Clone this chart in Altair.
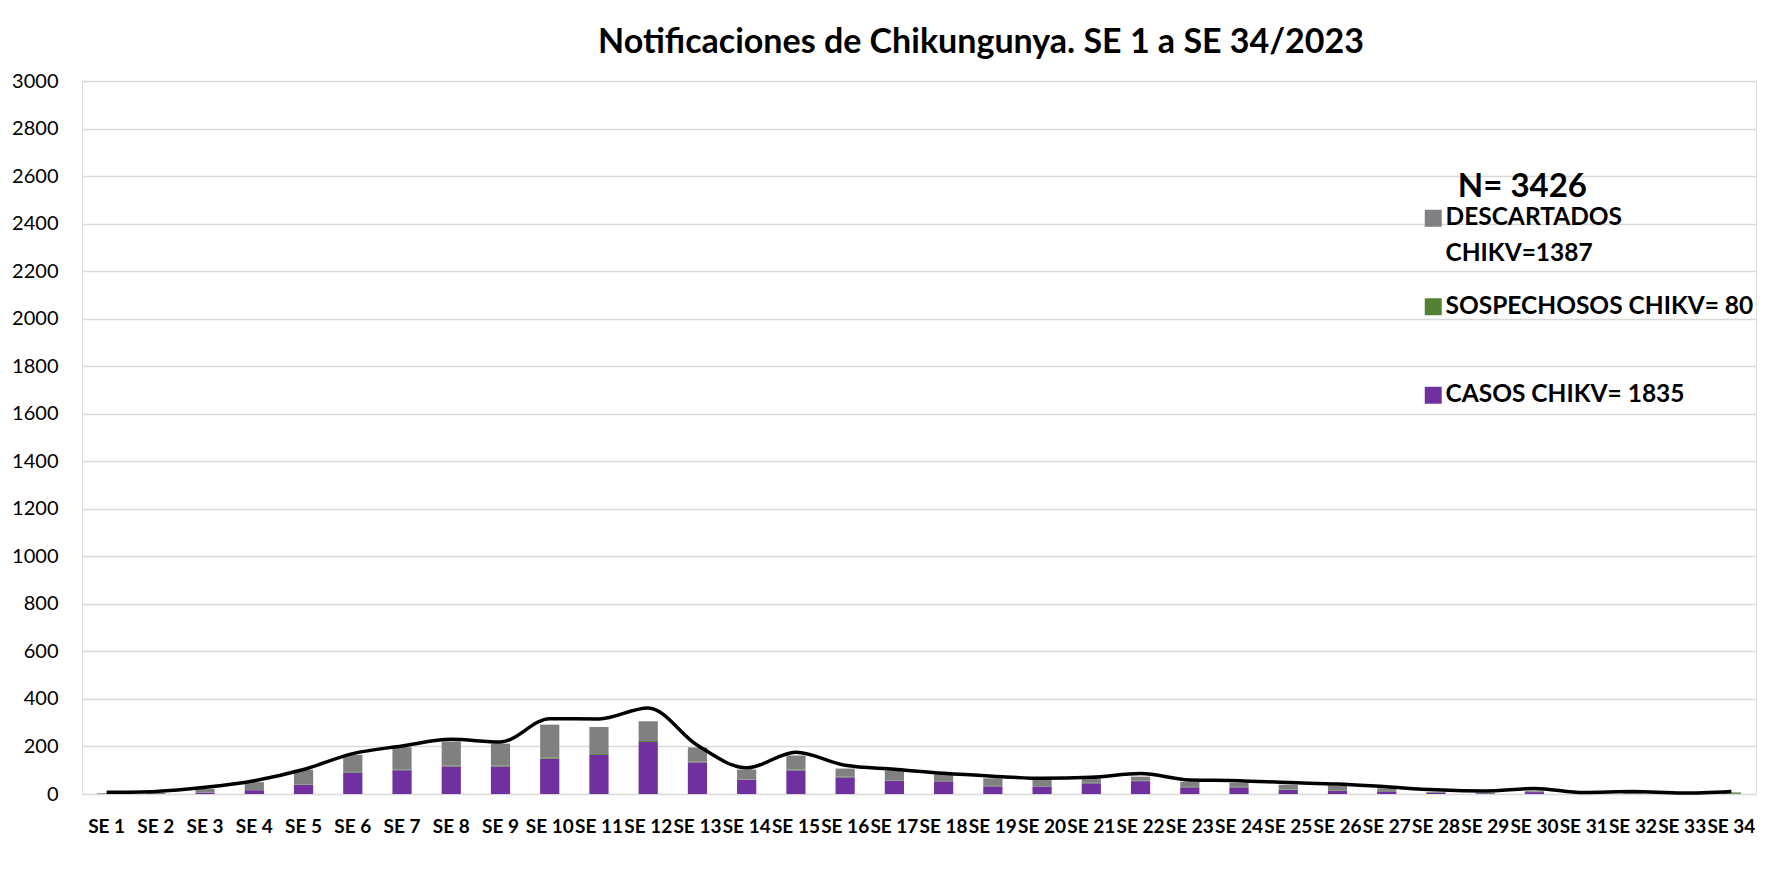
import altair as alt
import pandas as pd

semanas = [f"SE {i}" for i in range(1, 35)]

casos = [0, 0, 6, 16, 38, 90, 100, 116, 116, 149, 164, 219, 133, 59, 99, 70, 55,
         53, 32, 31, 45, 54, 28, 28, 17, 14, 11, 6, 3, 8, 2, 2, 1, 1]
sospechosos = [0, 0, 1, 1, 2, 3, 3, 3, 3, 5, 4, 4, 3, 2, 4, 3, 2,
               2, 2, 2, 2, 3, 2, 2, 2, 2, 2, 2, 2, 2, 2, 2, 2, 5]
descartados = [3, 4, 15, 33, 62, 72, 94, 102, 93, 138, 114, 83, 60, 42, 59, 34, 42,
               27, 32, 28, 18, 16, 21, 17, 20, 19, 11, 1, 0, 4, 0, 0, 0, 1]
total = [7, 11, 28, 56, 103, 170, 202, 230, 219, 317, 316, 362, 205, 110, 176, 121, 104,
         87, 75, 66, 70, 86, 59, 56, 48, 42, 30, 18, 13, 23, 6, 10, 4, 11]

series = ["DESCARTADOS CHIKV=1387", "SOSPECHOSOS CHIKV= 80", "CASOS CHIKV= 1835"]
colores = ["#808080", "#548235", "#7030A0"]
y_ticks = list(range(0, 3001, 200))

rows = []
for i, s in enumerate(semanas):
    rows.append({"semana": s, "serie": series[2], "valor": casos[i], "orden": 0})
    rows.append({"semana": s, "serie": series[1], "valor": sospechosos[i], "orden": 1})
    rows.append({"semana": s, "serie": series[0], "valor": descartados[i], "orden": 2})
bars_df = pd.DataFrame(rows)
line_df = pd.DataFrame({"semana": semanas, "total": total})

FONT = "Lato"

x_enc = alt.X(
    "semana:N",
    sort=semanas,
    title=None,
    scale=alt.Scale(paddingInner=0.61, paddingOuter=0.305),
    axis=alt.Axis(
        labelFont=FONT, labelFontSize=19, labelFontWeight="bold", labelColor="#000000",
        labelAngle=0, labelPadding=23, labelOverlap=False, labelLimit=100,
        ticks=False, domain=False, grid=False,
    ),
)

y_scale = alt.Scale(domain=[0, 3000], nice=False)
y_axis = alt.Axis(
    values=y_ticks, format="d", labelFont=FONT, labelFontSize=20, labelColor="#000000",
    labelPadding=24, ticks=False, domain=False, grid=True,
    gridColor="#d9d9d9", gridWidth=1.5,
)

label_expr = (
    "datum.label == 'DESCARTADOS CHIKV=1387' ? ['DESCARTADOS', 'CHIKV=1387'] "
    ": [datum.label, ' ']"
)

bars = alt.Chart(bars_df).mark_bar().encode(
    x=x_enc,
    y=alt.Y("valor:Q", stack="zero", title=None, scale=y_scale, axis=y_axis),
    color=alt.Color(
        "serie:N",
        scale=alt.Scale(domain=series, range=colores),
        legend=alt.Legend(
            title="N= 3426",
            titleFont=FONT, titleFontSize=33, titleFontWeight="bold", titleColor="#000000",
            titleAnchor="middle", titleAlign="right", titlePadding=2, titleLimit=400,
            labelFont=FONT, labelFontSize=24.5, labelFontWeight="bold", labelColor="#000000",
            labelExpr=label_expr,
            labelBaseline="middle", labelOffset=0, labelLimit=400,
            symbolType="square", symbolSize=289, symbolStrokeWidth=0, symbolOpacity=1,
            rowPadding=27.5, padding=0,
            orient="none", legendX=1339, legendY=90,
        ),
    ),
    order=alt.Order("orden:Q", sort="ascending"),
)

line = alt.Chart(line_df).mark_line(color="#000000", strokeWidth=3.5, interpolate="monotone").encode(
    x=alt.X("semana:N", sort=semanas),
    y=alt.Y("total:Q", scale=y_scale),
)

chart = alt.layer(bars, line).properties(
    width=1674,
    height=713,
    autosize=alt.AutoSizeParams(type="none"),
    padding={"left": 74, "top": 73, "right": 10, "bottom": 62},
    title=alt.TitleParams(
        "Notificaciones de Chikungunya. SE 1 a SE 34/2023",
        font=FONT, fontSize=34, fontWeight="bold", color="#000000",
        anchor="middle", dx=62, offset=11,
    ),
    background="#ffffff",
).configure_view(strokeWidth=0).configure(style={"guide-label": {"lineHeight": 36}})

chart.save("out.html", embed_options={"renderer": "svg", "actions": False})
